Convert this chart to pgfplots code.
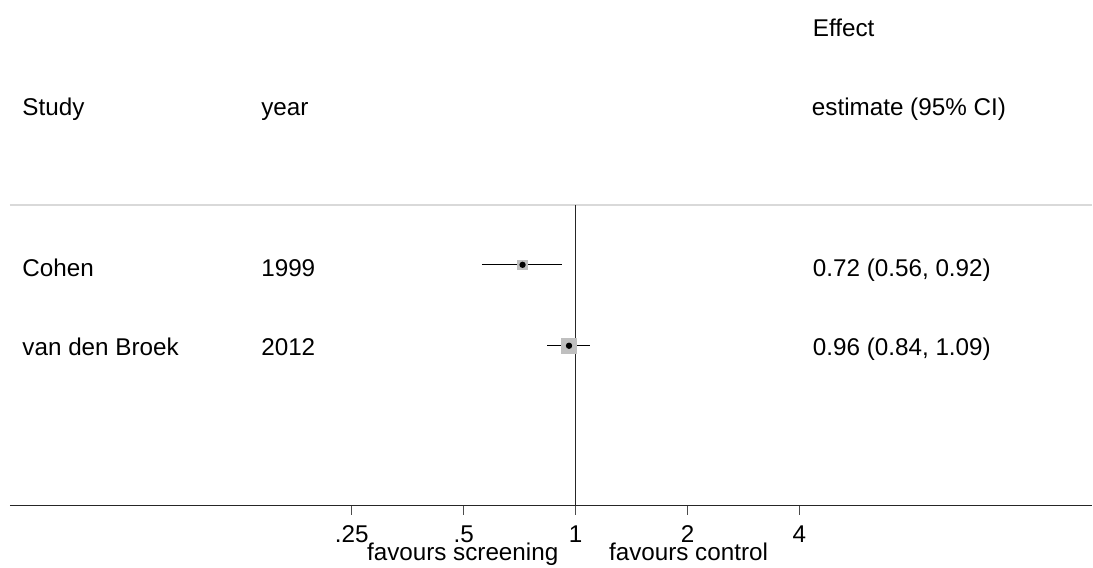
\documentclass[border=0pt]{standalone}
\usepackage{pgfplots}
\pgfplotsset{compat=1.18}
\usepackage{fontspec}
\setmainfont{Liberation Sans}
\begin{document}
\fontsize{9.7pt}{11.6pt}\selectfont
\begin{tikzpicture}[every node/.append style={font=\fontsize{9.7pt}{11.6pt}\selectfont}]
% overlay axis in pixel units (1px = 0.4pt), holds the text columns
\begin{axis}[
  at={(0pt,0pt)}, anchor=south west,
  width=437.2pt, height=227.2pt, scale only axis,
  xmin=0, xmax=1093, ymin=-568, ymax=0,
  hide axis, clip=false]
  \begin{scope}[every node/.style={inner sep=0pt, font=\fontsize{9.7pt}{11.6pt}\selectfont}]
  \node[anchor=base west] at (axis cs:813,-37) {Effect};
  \node[anchor=base west] at (axis cs:22,-116) {Study};
  \node[anchor=base west] at (axis cs:261,-116) {year};
  \node[anchor=base west] at (axis cs:812,-116) {estimate (95\% CI)};
  \node[anchor=base west] at (axis cs:22,-277) {Cohen};
  \node[anchor=base west] at (axis cs:261,-277) {1999};
  \node[anchor=base west] at (axis cs:813,-277) {0.72 (0.56, 0.92)};
  \node[anchor=base west] at (axis cs:22,-356) {van den Broek};
  \node[anchor=base west] at (axis cs:261,-356) {2012};
  \node[anchor=base west] at (axis cs:813,-356) {0.96 (0.84, 1.09)};
  \node[anchor=base] at (axis cs:463,-561) {favours screening};
  \node[anchor=base] at (axis cs:689,-561) {favours control};
  \end{scope}
  \path (axis cs:0,0) rectangle (axis cs:1093,-568);
\end{axis}
% forest plot axis (log base 2)
\begin{axis}[
  at={(4pt,24.8pt)}, anchor=south west,
  width=433.2pt, height=202.4pt, scale only axis,
  xmode=log, log basis x=2,
  xmin=0.03011, xmax=24.52, ymin=-506, ymax=0,
  axis x line=bottom, axis y line=none,
  x axis line style={-, black!85, line width=0.5pt},
  xtick={0.25,0.5,1,2,4},
  xticklabels={.25,.5,1,2,4},
  minor xtick={},
  tick align=outside,
  major tick length=3.6pt,
  tick style={black!70, line width=0.5pt},
  xticklabel style={anchor=base, yshift=-11.2pt, inner sep=0pt, font=\fontsize{9.7pt}{11.6pt}\selectfont},
  clip=false]
  % reference lines
  \addplot[black!15, line width=0.6pt] coordinates {(0.03011,-205) (24.52,-205)};
  \addplot[black!85, line width=0.5pt] coordinates {(1,-205) (1,-506)};
  % Cohen 1999
  \addplot[only marks, mark=square*, mark size=1.9pt, color=black!25] coordinates {(0.72,-265)};
  \addplot[black, line width=0.45pt] coordinates {(0.56,-265) (0.92,-265)};
  \addplot[only marks, mark=*, mark size=1.05pt, black] coordinates {(0.72,-265)};
  % van den Broek 2012
  \addplot[only marks, mark=square*, mark size=3.0pt, color=black!25] coordinates {(0.96,-346)};
  \addplot[black, line width=0.45pt] coordinates {(0.84,-346) (1.09,-346)};
  \addplot[only marks, mark=*, mark size=1.05pt, black] coordinates {(0.96,-346)};
\end{axis}
\end{tikzpicture}
\end{document}
